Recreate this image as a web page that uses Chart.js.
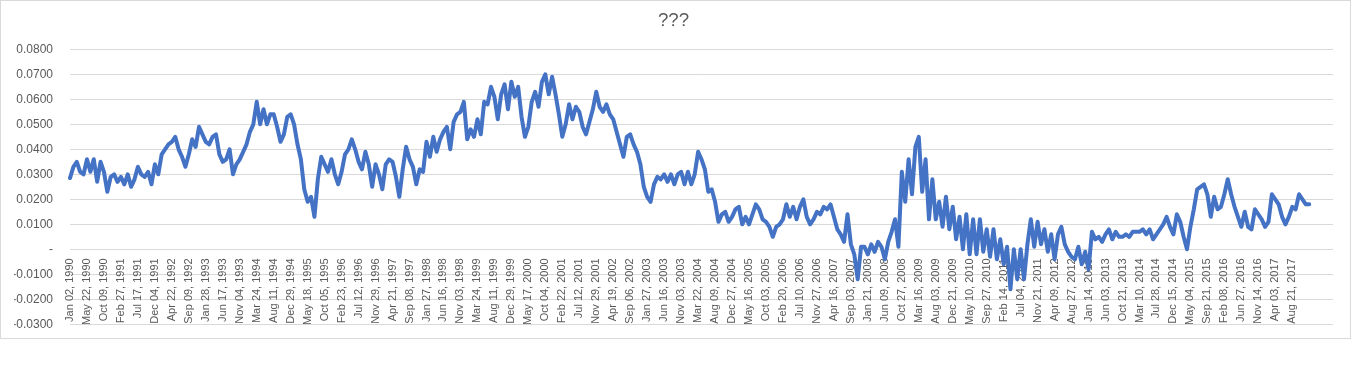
<!DOCTYPE html>
<html>
<head>
<meta charset="utf-8">
<script src="https://cdn.jsdelivr.net/npm/chart.js@4.4.1/dist/chart.umd.min.js"></script>
<style>
  html, body { margin: 0; padding: 0; background: #ffffff; }
  #wrap { width: 1360px; height: 366px; position: relative; }
</style>
</head>
<body>
<div id="wrap"><canvas id="rateChart"></canvas></div>
<script>
// Tick labels on the category axis (one every 100 trading days)
const tickLabels = ['Jan 02, 1990', 'May 22, 1990', 'Oct 09, 1990', 'Feb 27, 1991', 'Jul 17, 1991', 'Dec 04, 1991',
    'Apr 22, 1992', 'Sep 09, 1992', 'Jan 28, 1993', 'Jun 17, 1993', 'Nov 04, 1993', 'Mar 24, 1994', 'Aug 11, 1994',
    'Dec 29, 1994', 'May 18, 1995', 'Oct 05, 1995', 'Feb 23, 1996', 'Jul 12, 1996', 'Nov 29, 1996', 'Apr 21, 1997',
    'Sep 08, 1997', 'Jan 27, 1998', 'Jun 16, 1998', 'Nov 03, 1998', 'Mar 24, 1999', 'Aug 11, 1999', 'Dec 29, 1999',
    'May 17, 2000', 'Oct 04, 2000', 'Feb 22, 2001', 'Jul 12, 2001', 'Nov 29, 2001', 'Apr 19, 2002', 'Sep 06, 2002',
    'Jan 27, 2003', 'Jun 16, 2003', 'Nov 03, 2003', 'Mar 22, 2004', 'Aug 09, 2004', 'Dec 27, 2004', 'May 16, 2005',
    'Oct 03, 2005', 'Feb 20, 2006', 'Jul 10, 2006', 'Nov 27, 2006', 'Apr 16, 2007', 'Sep 03, 2007', 'Jan 21, 2008',
    'Jun 09, 2008', 'Oct 27, 2008', 'Mar 16, 2009', 'Aug 03, 2009', 'Dec 21, 2009', 'May 10, 2010', 'Sep 27, 2010',
    'Feb 14, 2011', 'Jul 04, 2011', 'Nov 21, 2011', 'Apr 09, 2012', 'Aug 27, 2012', 'Jan 14, 2013', 'Jun 03, 2013',
    'Oct 21, 2013', 'Mar 10, 2014', 'Jul 28, 2014', 'Dec 15, 2014', 'May 04, 2015', 'Sep 21, 2015', 'Feb 08, 2016',
    'Jun 27, 2016', 'Nov 14, 2016', 'Apr 03, 2017', 'Aug 21, 2017'];

// Values, 5 samples per tick interval (~20 trading days each)
const values1990to1999 = [
    0.0285, 0.033, 0.035, 0.031, 0.030,   0.036, 0.031, 0.036, 0.027, 0.035,
    0.031, 0.023, 0.029, 0.030, 0.027,    0.029, 0.026, 0.030, 0.025, 0.028,
    0.033, 0.030, 0.029, 0.031, 0.026,    0.034, 0.030, 0.038, 0.040, 0.042,
    0.043, 0.045, 0.040, 0.037, 0.033,    0.038, 0.044, 0.041, 0.049, 0.046,
    0.043, 0.042, 0.045, 0.046, 0.038,    0.035, 0.036, 0.040, 0.030, 0.034,
    0.036, 0.039, 0.042, 0.047, 0.050,    0.059, 0.050, 0.056, 0.050, 0.054,
    0.054, 0.049, 0.043, 0.046, 0.053,    0.054, 0.050, 0.042, 0.036, 0.024,
    0.019, 0.021, 0.013, 0.028, 0.037,    0.034, 0.031, 0.036, 0.030, 0.026,
    0.031, 0.038, 0.040, 0.044, 0.040,    0.035, 0.032, 0.039, 0.034, 0.025,
    0.034, 0.030, 0.024, 0.034, 0.036,    0.035, 0.029, 0.021, 0.032, 0.041,
    0.036, 0.033, 0.026, 0.032, 0.031,    0.043, 0.037, 0.045, 0.039, 0.044,
    0.047, 0.049, 0.040, 0.051, 0.054,    0.055, 0.059, 0.044, 0.048, 0.045,
    0.052, 0.046, 0.059, 0.058, 0.065
];
const values2000to2008 = [
    0.061, 0.052, 0.062, 0.066, 0.056,    0.067, 0.061, 0.065, 0.053, 0.045,
    0.049, 0.059, 0.063, 0.057, 0.067,    0.070, 0.062, 0.069, 0.062, 0.054,
    0.045, 0.050, 0.058, 0.052, 0.057,    0.055, 0.049, 0.046, 0.051, 0.056,
    0.063, 0.057, 0.055, 0.058, 0.054,    0.052, 0.047, 0.042, 0.037, 0.045,
    0.046, 0.042, 0.039, 0.034, 0.025,    0.021, 0.019, 0.026, 0.029, 0.028,
    0.030, 0.027, 0.030, 0.026, 0.030,    0.031, 0.026, 0.031, 0.026, 0.030,
    0.039, 0.036, 0.032, 0.023, 0.024,    0.019, 0.011, 0.014, 0.015, 0.011,
    0.013, 0.016, 0.017, 0.010, 0.013,    0.010, 0.014, 0.018, 0.016, 0.012,
    0.011, 0.009, 0.005, 0.009, 0.010,    0.012, 0.018, 0.013, 0.017, 0.012,
    0.017, 0.020, 0.013, 0.010, 0.012,    0.015, 0.014, 0.017, 0.016, 0.018,
    0.013, 0.008, 0.006, 0.003, 0.014,    0.002, -0.002, -0.012, 0.001, 0.001,
    -0.002, 0.002, -0.001, 0.003, 0.001,  -0.004, 0.003, 0.007, 0.012, 0.001,
    0.031, 0.019, 0.036, 0.022, 0.041
];
const values2009to2017 = [
    0.045, 0.023, 0.036, 0.012, 0.028,    0.012, 0.019, 0.009, 0.021, 0.008,
    0.017, 0.004, 0.013, 0.000, 0.014,    -0.002, 0.012, -0.002, 0.012, -0.001,
    0.008, -0.003, 0.008, -0.004, 0.004,  -0.006, 0.001, -0.016, 0.000, -0.012,
    0.000, -0.012, 0.002, 0.012, 0.001,   0.011, 0.002, 0.008, -0.001, 0.006,
    -0.004, 0.006, 0.009, 0.002, -0.001,  -0.003, -0.004, 0.001, -0.006, -0.001,
    -0.008, 0.007, 0.004, 0.005, 0.003,   0.006, 0.008, 0.004, 0.007, 0.005,
    0.005, 0.006, 0.005, 0.007, 0.007,    0.007, 0.008, 0.006, 0.008, 0.004,
    0.006, 0.008, 0.010, 0.013, 0.009,    0.006, 0.014, 0.011, 0.005, 0.000,
    0.009, 0.016, 0.024, 0.025, 0.026,    0.022, 0.013, 0.021, 0.016, 0.017,
    0.022, 0.028, 0.022, 0.017, 0.013,    0.009, 0.015, 0.009, 0.008, 0.016,
    0.014, 0.012, 0.009, 0.011, 0.022,    0.020, 0.018, 0.013, 0.010, 0.013,
    0.017, 0.016, 0.022, 0.020, 0.018,    0.018
];

const samplesPerTick = 5;
const axisSlots = 373; // category slots, the axis runs past the last value

// Build the category labels: tick label on every 5th slot, blank elsewhere
const seriesValues = values1990to1999.concat(values2000to2008, values2009to2017);
const categoryLabels = [];
for (let i = 0; i < axisSlots; i++) {
    const k = i / samplesPerTick;
    categoryLabels.push(i % samplesPerTick === 0 && tickLabels[k] ? tickLabels[k] : '');
}

// Light grey frame around the chart like the spreadsheet chart area
const framePlugin = {
    id: 'frame',
    beforeDraw(chart) {
        const ctx = chart.ctx;
        ctx.save();
        ctx.fillStyle = '#ffffff';
        ctx.fillRect(0, 0, chart.width, chart.height);
        ctx.strokeStyle = '#d9d9d9';
        ctx.lineWidth = 1;
        ctx.strokeRect(0.5, 0.5, 1350, 338);
        ctx.restore();
    }
};

const ctx = document.getElementById('rateChart').getContext('2d');
const rateChart = new Chart(ctx, {
    type: 'line',
    data: {
        labels: categoryLabels,
        datasets: [{
            label: 'Series1',
            data: seriesValues,
            borderColor: '#4472c4',
            borderWidth: 4,
            borderJoinStyle: 'round',
            borderCapStyle: 'round',
            pointRadius: 0,
            tension: 0,
            fill: false
        }]
    },
    options: {
        responsive: true,
        maintainAspectRatio: false,
        animation: false,
        layout: {
            padding: { left: 14, right: 27, top: 0, bottom: 41.7 }
        },
        scales: {
            x: {
                type: 'category',
                position: { y: 0 },
                offset: false,
                grid: { display: false, drawTicks: false },
                border: { display: false },
                ticks: {
                    autoSkip: false,
                    maxRotation: 90,
                    minRotation: 90,
                    padding: 9,
                    color: '#595959',
                    font: { family: 'Liberation Sans', size: 11 }
                },
                afterFit: function (scale) {
                    scale.height = 0;
                }
            },
            y: {
                min: -0.03,
                max: 0.08,
                grid: { color: '#d9d9d9', lineWidth: 1, drawTicks: false },
                border: { display: false },
                ticks: {
                    stepSize: 0.01,
                    padding: 17,
                    color: '#595959',
                    font: { family: 'Liberation Sans', size: 12 },
                    callback: function (value) {
                        if (Math.abs(value) < 1e-9) return '-';
                        return value.toFixed(4);
                    }
                },
                afterFit: function (scale) {
                    scale.width = 56;
                }
            }
        },
        plugins: {
            legend: { display: false },
            tooltip: { enabled: false },
            title: {
                display: true,
                text: '???',
                color: '#595959',
                font: { family: 'Liberation Sans', size: 18.67, weight: 'normal' },
                padding: { top: 10, bottom: 16.9 }
            }
        }
    },
    plugins: [framePlugin]
});
</script>
</body>
</html>
